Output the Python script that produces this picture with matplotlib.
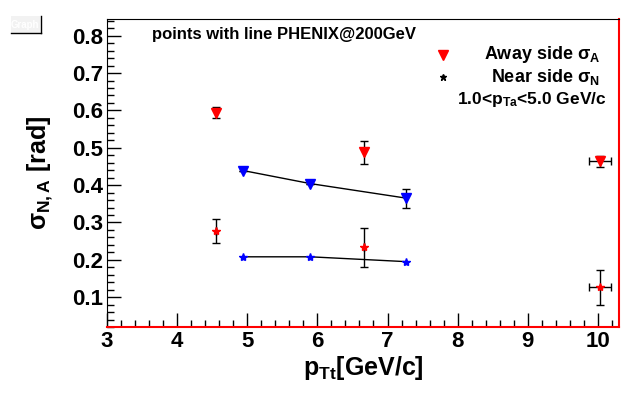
import matplotlib
matplotlib.use("Agg")
import matplotlib.pyplot as plt
from matplotlib.ticker import MultipleLocator
from matplotlib.patches import Rectangle

plt.rcParams['font.family'] = ['Liberation Sans', 'DejaVu Sans']
plt.rcParams['font.weight'] = 'bold'
plt.rcParams['mathtext.fontset'] = 'custom'
plt.rcParams['mathtext.rm'] = 'Liberation Sans:bold'
plt.rcParams['mathtext.it'] = 'Liberation Sans:bold'
plt.rcParams['mathtext.bf'] = 'Liberation Sans:bold'
plt.rcParams['mathtext.sf'] = 'Liberation Sans'

# PHENIX points (red)
phx_x = [4.55, 6.67, 10.03]
phx_xerr = [0.0, 0.0, 0.16]
phx_away = [0.594, 0.488, 0.464]
phx_away_err = [0.015, 0.031, 0.015]
phx_near = [0.277, 0.233, 0.126]
phx_near_err = [0.033, 0.052, 0.046]

# model points with line (blue)
mod_x = [4.94, 5.90, 7.27]
mod_away = [0.439, 0.404, 0.365]
mod_away_err = [0.0, 0.0, 0.025]
mod_near = [0.208, 0.208, 0.195]

fig = plt.figure(figsize=(6.32, 3.94), dpi=100)
ax = fig.add_axes([0.1693, 0.170, 0.810, 0.782])

eb = dict(fmt='none', ecolor='black', elinewidth=1.0, capsize=3, capthick=1.0, zorder=2)
ax.errorbar(phx_x, phx_away, yerr=phx_away_err, xerr=phx_xerr, **eb)
ax.errorbar(phx_x, phx_near, yerr=phx_near_err, xerr=phx_xerr, **eb)
ax.errorbar(mod_x, mod_away, yerr=mod_away_err, **eb)

ax.plot(mod_x, mod_away, color='black', lw=1.0, zorder=1)
ax.plot(mod_x, mod_near, color='black', lw=1.0, zorder=1)

ax.plot(phx_x, phx_away, 'v', color='red', ms=7, zorder=3)
ax.plot(phx_x, phx_near, '*', color='red', ms=6, zorder=3)
ax.plot(mod_x, mod_away, 'v', color='blue', ms=7, zorder=3)
ax.plot(mod_x, mod_near, '*', color='blue', ms=6, zorder=3)

ax.set_xlim(3, 10.3)
ax.set_ylim(0.02, 0.845)
ax.xaxis.set_major_locator(MultipleLocator(1))
ax.xaxis.set_minor_locator(MultipleLocator(0.2))
ax.yaxis.set_minor_locator(MultipleLocator(0.02))
ax.set_yticks([0.1, 0.2, 0.3, 0.4, 0.5, 0.6, 0.7, 0.8])
ax.set_yticklabels(['0.1', '0.2', '0.3', '0.4', '0.5', '0.6', '0.7', '0.8'])
ax.tick_params(which='major', direction='in', length=10, width=1, labelsize=16, pad=3)
ax.tick_params(which='minor', direction='in', length=5, width=1)
for lab in ax.get_xticklabels() + ax.get_yticklabels():
    lab.set_fontweight('bold')

ax.spines['right'].set_color('red')
ax.spines['right'].set_linewidth(1.5)
ax.spines['bottom'].set_color('red')
ax.spines['bottom'].set_linewidth(1.5)

ax.set_xlabel('$\\mathrm{p_{Tt}}$[GeV/c]', fontsize=18, fontweight='bold', labelpad=1)
ax.set_ylabel('$\\mathsf{\\sigma}_{N,A}$ [rad]', fontsize=18, fontweight='bold', labelpad=12)

ax.text(0.088, 0.948, 'points with line PHENIX@200GeV', transform=ax.transAxes,
        fontsize=12, fontweight='bold', va='center')

# legend
ax.plot([0.656], [0.883], 'v', color='red', ms=7, transform=ax.transAxes, clip_on=False)
ax.plot([0.656], [0.812], '*', color='black', ms=5, transform=ax.transAxes, clip_on=False)
ax.text(0.963, 0.883, 'Away side $\\mathsf{\\sigma}_A$', transform=ax.transAxes, fontsize=13,
        fontweight='bold', ha='right', va='center')
ax.text(0.963, 0.812, 'Near side $\\mathsf{\\sigma}_N$', transform=ax.transAxes, fontsize=13,
        fontweight='bold', ha='right', va='center')
ax.text(0.975, 0.737, '1.0<$\\mathrm{p_{Ta}}$<5.0 GeV/c', transform=ax.transAxes, fontsize=12.5,
        fontweight='bold', ha='right', va='center')

# ROOT title box
fig.patches.append(Rectangle((11 / 632, 1 - 33 / 394), 29 / 632, 17 / 394,
                             transform=fig.transFigure, facecolor='#f2f2f2',
                             edgecolor='none'))
fig.lines.append(plt.Line2D([11 / 632, 41 / 632], [1 - 33 / 394, 1 - 33 / 394],
                            transform=fig.transFigure, color='black', lw=1))
fig.lines.append(plt.Line2D([41 / 632, 41 / 632], [1 - 33 / 394, 1 - 16 / 394],
                            transform=fig.transFigure, color='black', lw=1))
fig.text(25 / 632, 1 - 24.5 / 394, 'Graph', color='white', fontsize=7, ha='center',
         va='center', fontweight='bold')

fig.savefig('out.png', dpi=100)
